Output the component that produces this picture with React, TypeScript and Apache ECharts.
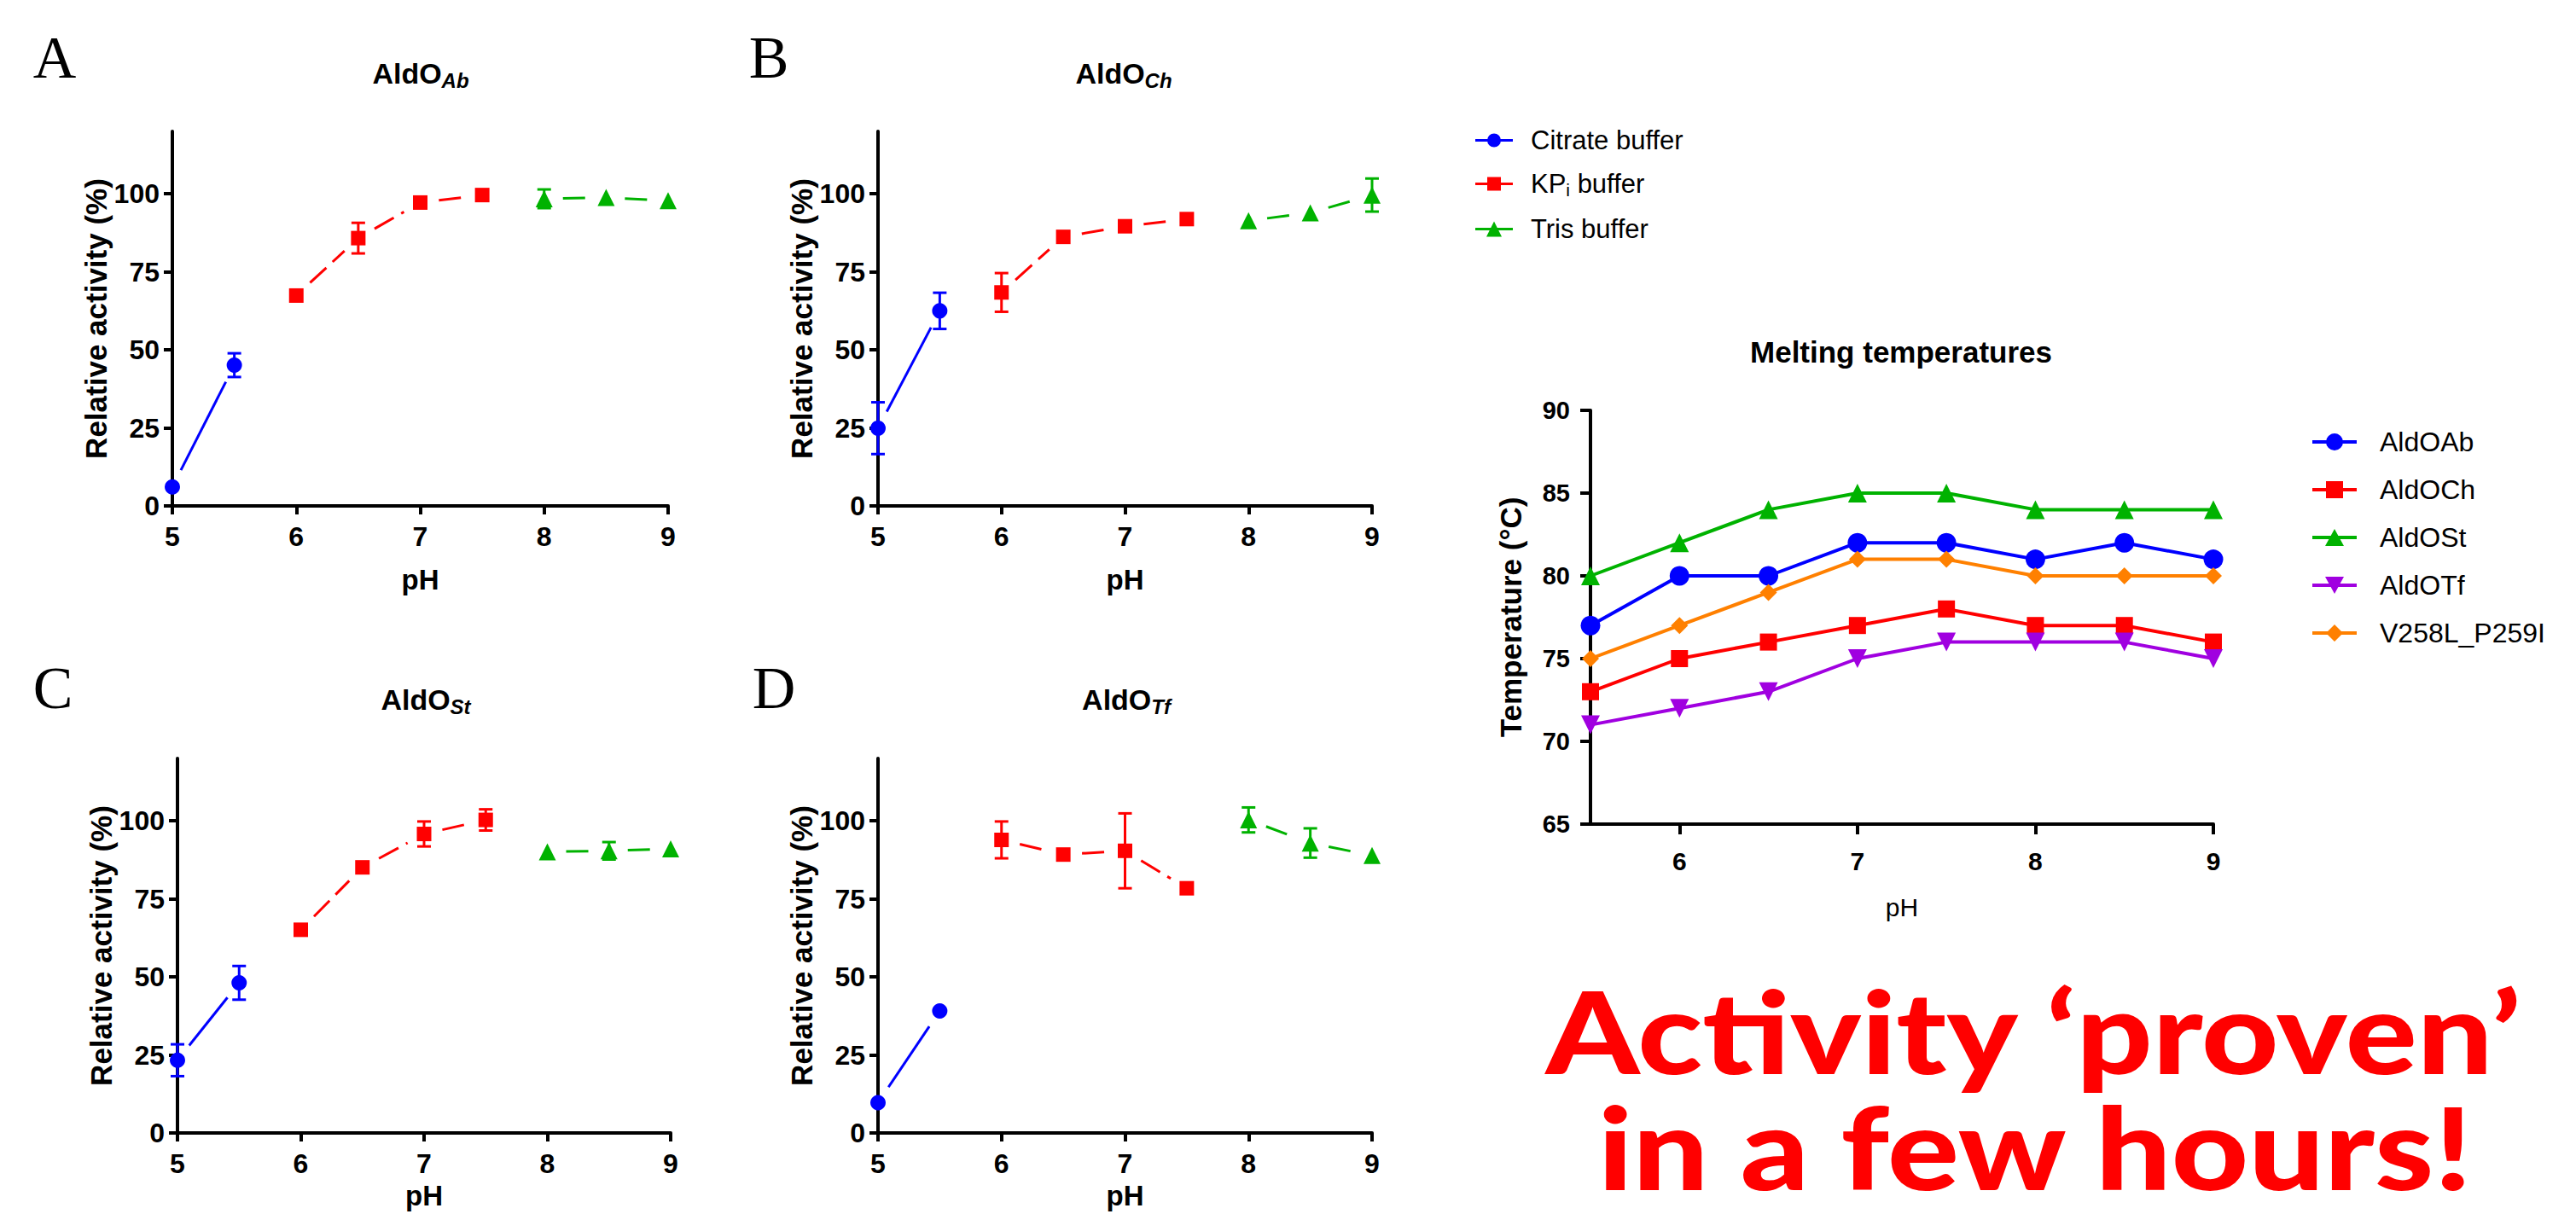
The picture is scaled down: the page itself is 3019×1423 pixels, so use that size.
import React, { useEffect, useRef } from 'react';
import * as echarts from 'echarts';

// ---------- data ----------
const CITRATE_PH = [5, 5.5];
const KPI_PH = [6, 6.5, 7, 7.5];
const TRIS_PH = [8, 8.5, 9];

const A_CITRATE = [6.1, 45.1];
const A_CITRATE_ERR = [0, 3.8];
const A_KPI = [67.4, 85.8, 97.2, 99.6];
const A_KPI_ERR = [0, 4.9, 0, 0];
const A_TRIS = [98.4, 98.8, 97.8];
const A_TRIS_ERR = [3.0, 0, 0];

const B_CITRATE = [24.9, 62.5];
const B_CITRATE_ERR = [8.3, 5.8];
const B_KPI = [68.4, 86.2, 89.6, 91.9];
const B_KPI_ERR = [6.2, 0, 0, 0];
const B_TRIS = [91.4, 93.9, 99.6];
const B_TRIS_ERR = [0, 0, 5.3];

const C_CITRATE = [23.3, 48.1];
const C_CITRATE_ERR = [5.1, 5.4];
const C_KPI = [65.1, 85.1, 95.8, 100.3];
const C_KPI_ERR = [0, 0, 4.0, 3.4];
const C_TRIS = [90.1, 90.4, 91.0];
const C_TRIS_ERR = [0, 2.8, 0];

const D_CITRATE = [9.7, 39.1];
const D_CITRATE_ERR = [0, 0];
const D_KPI = [93.9, 89.2, 90.4, 78.4];
const D_KPI_ERR = [5.9, 0, 12.0, 0];
const D_TRIS = [100.3, 92.9, 88.9];
const D_TRIS_ERR = [4.0, 4.7, 0];

const ACT_X_TICKS = [5, 6, 7, 8, 9];
const ACT_Y_TICKS = [0, 25, 50, 75, 100];

const MELT_PH = [5.5, 6, 6.5, 7, 7.5, 8, 8.5, 9];
const MELT_ALDOAB = [77, 80, 80, 82, 82, 81, 82, 81];
const MELT_ALDOCH = [73, 75, 76, 77, 78, 77, 77, 76];
const MELT_ALDOST = [80, 82, 84, 85, 85, 84, 84, 84];
const MELT_ALDOTF = [71, 72, 73, 75, 76, 76, 76, 75];
const MELT_V258L = [75, 77, 79, 81, 81, 80, 80, 80];
const MELT_X_TICKS = [6, 7, 8, 9];
const MELT_Y_TICKS = [65, 70, 75, 80, 85, 90];

const BUFFER_NAMES = ['Citrate buffer', 'KPi buffer', 'Tris buffer'];
const MELT_NAMES = ['AldOAb', 'AldOCh', 'AldOSt', 'AldOTf', 'V258L_P259I'];

// ---------- styles ----------
const BLUE = '#0000FF';
const RED = '#FF0000';
const GREEN = '#00B200';
const PURPLE = '#A000E0';
const ORANGE = '#FF8000';

const SANS = '"Liberation Sans", Arial, Helvetica, sans-serif';
const NARROW = '"Liberation Sans Narrow", "Arial Narrow", "Liberation Sans", Arial, sans-serif';
const SERIF = '"Liberation Serif", "Times New Roman", serif';
const HEAVY = 'Lato, "Noto Sans", "Liberation Sans", Arial, sans-serif';

const ICON_CIRCLE = 'path://M0,8H52V12H0Z M16,10A10,10 0 1,1 36,10A10,10 0 1,1 16,10Z';
const ICON_SQUARE = 'path://M0,8H52V12H0Z M16,0H36V20H16Z';
const ICON_TRI_UP = 'path://M0,8H52V12H0Z M26,0L37,20H15Z';
const ICON_TRI_DOWN = 'path://M0,8H52V12H0Z M15,0H37L26,20Z';
const ICON_DIAMOND = 'path://M0,8H52V12H0Z M26,0L36,10L26,20L16,10Z';

const BUF_ICON_CIRCLE = 'path://M0,7.5H44V10.5H0Z M14,9A8,8 0 1,1 30,9A8,8 0 1,1 14,9Z';
const BUF_ICON_SQUARE = 'path://M0,7.5H44V10.5H0Z M14,1H30V17H14Z';
const BUF_ICON_TRI = 'path://M0,7.5H44V10.5H0Z M22,0L31,18H13Z';

const BUFFERS = [
  { name: BUFFER_NAMES[0], color: BLUE, symbol: 'circle', size: 18, dashed: false, ph: CITRATE_PH, icon: BUF_ICON_CIRCLE },
  { name: BUFFER_NAMES[1], color: RED, symbol: 'rect', size: 17, dashed: true, ph: KPI_PH, icon: BUF_ICON_SQUARE },
  { name: BUFFER_NAMES[2], color: GREEN, symbol: 'triangle', size: 20, dashed: true, ph: TRIS_PH, icon: BUF_ICON_TRI },
];

const PANELS = [
  { letter: 'A', sub: 'Ab', grid: { left: 202, top: 154, width: 581, height: 439 }, letterPos: [64, 67], titlePos: [493, 86], phGap: 70,
    values: [A_CITRATE, A_KPI, A_TRIS], errs: [A_CITRATE_ERR, A_KPI_ERR, A_TRIS_ERR] },
  { letter: 'B', sub: 'Ch', grid: { left: 1029, top: 154, width: 579, height: 439 }, letterPos: [901, 67], titlePos: [1317, 86], phGap: 70,
    values: [B_CITRATE, B_KPI, B_TRIS], errs: [B_CITRATE_ERR, B_KPI_ERR, B_TRIS_ERR] },
  { letter: 'C', sub: 'St', grid: { left: 208, top: 889, width: 578, height: 439 }, letterPos: [62, 806], titlePos: [499, 820], phGap: 57,
    values: [C_CITRATE, C_KPI, C_TRIS], errs: [C_CITRATE_ERR, C_KPI_ERR, C_TRIS_ERR] },
  { letter: 'D', sub: 'Tf', grid: { left: 1029, top: 889, width: 579, height: 439 }, letterPos: [907, 806], titlePos: [1320, 820], phGap: 57,
    values: [D_CITRATE, D_KPI, D_TRIS], errs: [D_CITRATE_ERR, D_KPI_ERR, D_TRIS_ERR] },
];

const MELT_SERIES = [
  { name: MELT_NAMES[0], color: BLUE, symbol: 'circle', size: 23, rotate: 0, values: MELT_ALDOAB, icon: ICON_CIRCLE },
  { name: MELT_NAMES[1], color: RED, symbol: 'rect', size: 20, rotate: 0, values: MELT_ALDOCH, icon: ICON_SQUARE },
  { name: MELT_NAMES[2], color: GREEN, symbol: 'triangle', size: 22, rotate: 0, values: MELT_ALDOST, icon: ICON_TRI_UP },
  { name: MELT_NAMES[3], color: PURPLE, symbol: 'triangle', size: 22, rotate: 180, values: MELT_ALDOTF, icon: ICON_TRI_DOWN },
  { name: MELT_NAMES[4], color: ORANGE, symbol: 'diamond', size: 20, rotate: 0, values: MELT_V258L, icon: ICON_DIAMOND },
];

const LINE_GAP = 22;

function segRender(color: string, dashed: boolean) {
  return (params: any, api: any) => {
    const p1 = api.coord([api.value(0), api.value(1)]);
    const p2 = api.coord([api.value(2), api.value(3)]);
    const dx = p2[0] - p1[0];
    const dy = p2[1] - p1[1];
    const len = Math.hypot(dx, dy);
    if (len <= 2 * LINE_GAP) return null;
    const ux = dx / len;
    const uy = dy / len;
    return {
      type: 'line',
      shape: { x1: p1[0] + ux * LINE_GAP, y1: p1[1] + uy * LINE_GAP, x2: p2[0] - ux * LINE_GAP, y2: p2[1] - uy * LINE_GAP },
      style: { stroke: color, lineWidth: 3, lineDash: dashed ? [26, 10] : null, fill: null },
    };
  };
}

function errRender(color: string) {
  return (params: any, api: any) => {
    const x = api.value(0);
    const lo = api.coord([x, api.value(1)]);
    const hi = api.coord([x, api.value(2)]);
    const cw = 8;
    const style = { stroke: color, lineWidth: 3, fill: null };
    return {
      type: 'group',
      children: [
        { type: 'line', shape: { x1: hi[0], y1: hi[1], x2: lo[0], y2: lo[1] }, style },
        { type: 'line', shape: { x1: hi[0] - cw, y1: hi[1], x2: hi[0] + cw, y2: hi[1] }, style },
        { type: 'line', shape: { x1: lo[0] - cw, y1: lo[1], x2: lo[0] + cw, y2: lo[1] }, style },
      ],
    };
  };
}

function buildOption() {
  const grid: any[] = [];
  const xAxis: any[] = [];
  const yAxis: any[] = [];
  const series: any[] = [];
  const graphic: any[] = [];

  const axisLine = { show: true, onZero: false, lineStyle: { color: '#000', width: 4 } };

  PANELS.forEach((p, i) => {
    grid.push({ ...p.grid });
    xAxis.push({
      gridIndex: i, type: 'value', min: 5, max: 9, interval: 1,
      axisLine, splitLine: { show: false },
      axisTick: { show: true, inside: false, length: 10, lineStyle: { color: '#000', width: 4 }, customValues: ACT_X_TICKS },
      axisLabel: { customValues: ACT_X_TICKS, fontSize: 32, fontWeight: 'bold', fontFamily: NARROW, color: '#000', margin: 20 },
      name: 'pH', nameLocation: 'middle', nameGap: p.phGap,
      nameTextStyle: { fontSize: 33, fontWeight: 'bold', fontFamily: SANS, color: '#000' },
    });
    yAxis.push({
      gridIndex: i, type: 'value', min: 0, max: 120, interval: 25,
      axisLine, splitLine: { show: false },
      axisTick: { show: true, inside: false, length: 10, lineStyle: { color: '#000', width: 4 }, customValues: ACT_Y_TICKS },
      axisLabel: { customValues: ACT_Y_TICKS, fontSize: 32, fontWeight: 'bold', fontFamily: NARROW, color: '#000', margin: 15 },
      name: 'Relative activity (%)', nameLocation: 'middle', nameGap: 70,
      nameTextStyle: { fontSize: 35, fontWeight: 'bold', fontFamily: SANS, color: '#000' },
    });

    BUFFERS.forEach((b, k) => {
      const vals = p.values[k];
      const errs = p.errs[k];
      const segs: number[][] = [];
      for (let j = 0; j < b.ph.length - 1; j++) segs.push([b.ph[j], vals[j], b.ph[j + 1], vals[j + 1]]);
      const errData: number[][] = [];
      b.ph.forEach((x, j) => { if (errs[j] > 0) errData.push([x, vals[j] - errs[j], vals[j] + errs[j]]); });

      series.push({
        type: 'custom', coordinateSystem: 'cartesian2d', xAxisIndex: i, yAxisIndex: i,
        renderItem: segRender(b.color, b.dashed), data: segs, encode: { x: [0, 2], y: [1, 3] },
        z: 2, silent: true,
      });
      series.push({
        type: 'scatter', name: b.name, xAxisIndex: i, yAxisIndex: i,
        data: b.ph.map((x, j) => [x, vals[j]]),
        symbol: b.symbol, symbolSize: b.size, itemStyle: { color: b.color, opacity: 1 }, z: 3,
      });
      if (errData.length) {
        series.push({
          type: 'custom', coordinateSystem: 'cartesian2d', xAxisIndex: i, yAxisIndex: i,
          renderItem: errRender(b.color), data: errData, encode: { x: 0, y: [1, 2] },
          z: 4, silent: true,
        });
      }
    });

    graphic.push({
      type: 'text', x: p.letterPos[0], y: p.letterPos[1],
      style: { text: p.letter, fontSize: 70, fontFamily: SERIF, fill: '#000', align: 'center', verticalAlign: 'middle' },
    });
    graphic.push({
      type: 'text', x: p.titlePos[0], y: p.titlePos[1],
      style: {
        text: '{a|AldO}{s|' + p.sub + '}', align: 'center', verticalAlign: 'middle', fill: '#000',
        rich: {
          a: { fontSize: 34, fontWeight: 'bold', fontFamily: SANS, fill: '#000' },
          s: { fontSize: 24, fontWeight: 'bold', fontStyle: 'italic', fontFamily: SANS, fill: '#000', padding: [16, 0, 0, 0] },
        },
      },
    });
  });

  // melting temperatures
  const mi = PANELS.length;
  grid.push({ left: 1864, top: 481, width: 730, height: 485 });
  xAxis.push({
    gridIndex: mi, type: 'value', min: 5.5, max: 9,
    axisLine, splitLine: { show: false },
    axisTick: { show: true, inside: false, length: 12, lineStyle: { color: '#000', width: 4 }, customValues: MELT_X_TICKS },
    axisLabel: { customValues: MELT_X_TICKS, fontSize: 30, fontWeight: 'bold', fontFamily: SANS, color: '#000', margin: 28 },
    name: 'pH', nameLocation: 'middle', nameGap: 82,
    nameTextStyle: { fontSize: 30, fontFamily: SANS, color: '#000' },
  });
  yAxis.push({
    gridIndex: mi, type: 'value', min: 65, max: 90, interval: 5,
    axisLine, splitLine: { show: false },
    axisTick: { show: true, inside: false, length: 12, lineStyle: { color: '#000', width: 4 }, customValues: MELT_Y_TICKS },
    axisLabel: { customValues: MELT_Y_TICKS, fontSize: 29, fontWeight: 'bold', fontFamily: SANS, color: '#000', margin: 24 },
    name: 'Temperature (°C)', nameLocation: 'middle', nameGap: 76,
    nameTextStyle: { fontSize: 35, fontWeight: 'bold', fontFamily: SANS, color: '#000' },
  });
  MELT_SERIES.forEach((m) => {
    series.push({
      type: 'line', name: m.name, xAxisIndex: mi, yAxisIndex: mi,
      data: MELT_PH.map((x, j) => [x, m.values[j]]),
      symbol: m.symbol, symbolSize: m.size, symbolRotate: m.rotate, showSymbol: true,
      lineStyle: { color: m.color, width: 4 }, itemStyle: { color: m.color, opacity: 1 }, z: 3,
    });
  });

  graphic.push({
    type: 'text', x: 2228, y: 412,
    style: { text: 'Melting temperatures', fontSize: 35, fontWeight: 'bold', fontFamily: SANS, fill: '#000', align: 'center', verticalAlign: 'middle' },
  });
  graphic.push({
    type: 'text', x: 2383, y: 1207, scaleX: 1.17,
    style: { text: 'Activity \u2018proven\u2019', fontSize: 134, fontWeight: 900, fontFamily: HEAVY, fill: '#FF0000', align: 'center', verticalAlign: 'middle' },
  });
  graphic.push({
    type: 'text', x: 2385, y: 1343, scaleX: 1.17,
    style: { text: 'in a few hours!', fontSize: 134, fontWeight: 900, fontFamily: HEAVY, fill: '#FF0000', align: 'center', verticalAlign: 'middle' },
  });

  const legend = [
    {
      orient: 'vertical', left: 1724, top: 144, itemWidth: 44, itemHeight: 18, itemGap: 20,
      selectedMode: false,
      data: BUFFERS.map((b) => ({ name: b.name, icon: b.icon })),
      formatter: (n: string) => (n === 'KPi buffer' ? '{a|KP}{s|i}{a| buffer}' : n),
      textStyle: {
        fontSize: 31, fontFamily: SANS, color: '#000', padding: [0, 0, 0, 16],
        rich: {
          a: { fontSize: 31, fontFamily: SANS, color: '#000' },
          s: { fontSize: 21, fontFamily: SANS, color: '#000', padding: [14, 0, 0, 0] },
        },
      },
    },
    {
      orient: 'vertical', left: 2705, top: 497, itemWidth: 52, itemHeight: 20, itemGap: 24,
      selectedMode: false,
      data: MELT_SERIES.map((m) => ({ name: m.name, icon: m.icon })),
      textStyle: { fontSize: 32, fontFamily: SANS, color: '#000', padding: [0, 0, 0, 22] },
    },
  ];

  return { animation: false, backgroundColor: '#fff', grid, xAxis, yAxis, series, legend, graphic };
}

export default function App() {
  const ref = useRef<HTMLDivElement>(null);
  useEffect(() => {
    if (!ref.current) return;
    const chart = echarts.init(ref.current, null, { renderer: 'svg' });
    chart.setOption(buildOption() as any);
    return () => chart.dispose();
  }, []);
  return <div ref={ref} style={{ position: 'fixed', left: 0, top: 0, width: 3019, height: 1423, background: '#fff' }} />;
}
